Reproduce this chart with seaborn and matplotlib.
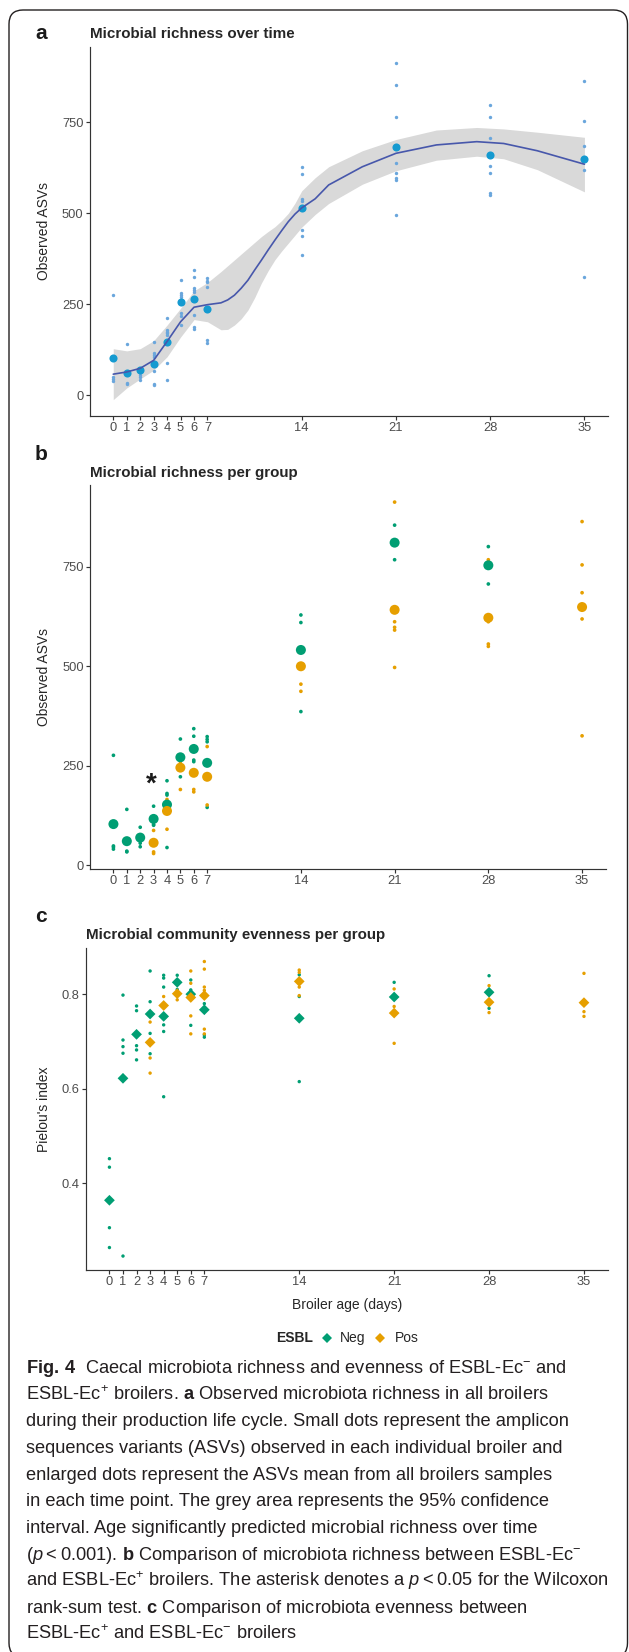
import matplotlib
matplotlib.use("Agg")
import matplotlib.pyplot as plt
import seaborn as sns
import pandas as pd
from matplotlib import font_manager as fm
from matplotlib.patches import FancyBboxPatch
from matplotlib.lines import Line2D
from matplotlib.transforms import IdentityTransform

W, H, DPI = 629, 1652, 100

# ---------------- data ----------------
days = [0, 1, 2, 3, 4, 5, 6, 7, 14, 21, 28, 35]
day_labels = [str(d) for d in days]
asv_ticks = [0, 250, 500, 750]
asv_labels = ["0", "250", "500", "750"]
pielou_ticks = [0.4, 0.6, 0.8]
pielou_labels = ["0.4", "0.6", "0.8"]

# panel a: observed ASVs of each broiler per day, and the daily mean
a_points = [
    [276, 50, 45, 40],
    [140, 35, 32],
    [55, 49, 43],
    [147, 117, 110, 106, 67, 32, 29],
    [211, 179, 175, 170, 165, 89, 41],
    [317, 282, 276, 271, 225, 219, 193],
    [343, 324, 294, 289, 284, 220, 188, 182],
    [322, 315, 310, 297, 152, 145],
    [628, 608, 540, 533, 454, 437, 386],
    [912, 854, 766, 639, 610, 596, 591, 495],
    [799, 766, 707, 631, 610, 555, 551],
    [863, 754, 684, 618, 324],
]
a_means = [103, 60, 69, 87, 146, 255, 264, 236, 515, 683, 660, 649]

# panel a: smoothed fit and its 95% band
curve_days = [0, 1, 2, 3, 4, 5, 6, 7, 8, 8.5, 9, 9.5, 10, 10.5, 11, 11.5, 12, 12.5, 13, 13.5,
              14, 15, 16, 18.5, 21, 24, 27, 29, 31.5, 35]
curve_fit = [58, 64, 74, 96, 148, 202, 242, 249, 254, 262, 275, 294, 316, 344, 371, 399, 426,
             452, 477, 498, 515, 540, 578, 628, 665, 688, 697, 692, 672, 635]
curve_upper = [128, 122, 128, 150, 193, 239, 287, 310, 340, 356, 372, 388, 404, 420, 436, 450,
               463, 480, 500, 528, 562, 598, 628, 672, 703, 729, 736, 732, 723, 709]
curve_lower = [-12, 20, 45, 69, 106, 160, 208, 202, 180, 181, 193, 210, 234, 268, 308, 342,
               372, 396, 418, 440, 462, 497, 527, 580, 617, 646, 657, 650, 620, 559]

# panel b: observed ASVs per ESBL group
b_neg_points = [
    [276, 48, 45, 40],
    [140, 35, 33],
    [95, 55, 46],
    [148, 102, 100],
    [212, 180, 176, 44],
    [317, 276, 222],
    [343, 324, 264, 260],
    [323, 316, 310, 145],
    [629, 610, 386],
    [855, 768],
    [801, 707],
    [],
]
b_neg_means = [103, 60, 69, 116, 152, 271, 292, 257, 541, 811, 754, None]
b_pos_points = [
    [], [], [],
    [87, 33, 29],
    [165, 142, 90],
    [260, 190],
    [190, 184],
    [298, 225, 151],
    [455, 437],
    [913, 612, 598, 591, 497],
    [768, 612, 556, 550],
    [864, 755, 685, 619, 325],
]
b_pos_means = [None, None, None, 56, 136, 245, 232, 222, 500, 642, 622, 649]
star_day, star_value = 2.85, 218

# panel c: Pielou's evenness per ESBL group
c_neg_points = [
    [0.452, 0.434, 0.306, 0.264],
    [0.798, 0.703, 0.689, 0.675, 0.246],
    [0.775, 0.765, 0.691, 0.682, 0.661],
    [0.849, 0.784, 0.717, 0.674],
    [0.840, 0.834, 0.815, 0.735, 0.721, 0.583],
    [0.840, 0.810],
    [0.830, 0.809, 0.734],
    [0.780, 0.714, 0.709],
    [0.841, 0.795, 0.615],
    [0.825, 0.763],
    [0.839, 0.770],
    [],
]
c_neg_means = [0.364, 0.622, 0.715, 0.758, 0.753, 0.825, 0.800, 0.767, 0.749, 0.794, 0.804, None]
c_pos_points = [
    [], [], [],
    [0.741, 0.665, 0.633],
    [0.795],
    [0.788],
    [0.849, 0.823, 0.754, 0.716],
    [0.869, 0.853, 0.815, 0.808, 0.726, 0.716],
    [0.851, 0.846, 0.815, 0.797],
    [0.811, 0.774, 0.696],
    [0.818, 0.761],
    [0.844, 0.763, 0.753],
]
c_pos_means = [None, None, None, 0.698, 0.776, 0.801, 0.793, 0.797, 0.827, 0.760, 0.783, 0.782]

groups = ["Neg", "Pos"]
caption_lines = [
    "$\\mathbf{Fig.\\:4}$  Caecal microbiota richness and evenness of ESBL-Ec$^{-}$ and",
    "ESBL-Ec$^{+}$ broilers. $\\mathbf{a}$ Observed microbiota richness in all broilers",
    "during their production life cycle. Small dots represent the amplicon",
    "sequences variants (ASVs) observed in each individual broiler and",
    "enlarged dots represent the ASVs mean from all broilers samples",
    "in each time point. The grey area represents the 95% confidence",
    "interval. Age significantly predicted microbial richness over time",
    "($\\mathit{p}$\u2009<\u20090.001). $\\mathbf{b}$ Comparison of microbiota richness between ESBL-Ec$^{-}$",
    "and ESBL-Ec$^{+}$ broilers. The asterisk denotes a $\\mathit{p}$\u2009<\u20090.05 for the Wilcoxon",
    "rank-sum test. $\\mathbf{c}$ Comparison of microbiota evenness between",
    "ESBL-Ec$^{+}$ and ESBL-Ec$^{-}$ broilers",
]

# ---------------- style ----------------
GREEN, ORANGE = "#009E73", "#E69F00"
LIGHT_BLUE, DARK_BLUE, LINE_BLUE, BAND = "#6aa6dc", "#159ad0", "#4757ab", "#d9d9d9"
AXIS_COL = "#333333"
TICK_TXT = "#4d4d4d"

sns.set_style("ticks")
avail = {f.name for f in fm.fontManager.ttflist}
base_font = "Liberation Sans" if "Liberation Sans" in avail else "DejaVu Sans"
cap_font = "Liberation Sans Narrow" if "Liberation Sans Narrow" in avail else base_font
plt.rcParams["font.family"] = [base_font, "DejaVu Sans"]
plt.rcParams["mathtext.fontset"] = "custom"
plt.rcParams["mathtext.rm"] = cap_font
plt.rcParams["mathtext.it"] = cap_font + ":italic"
plt.rcParams["mathtext.bf"] = cap_font + ":bold"

fig = plt.figure(figsize=(W / DPI, H / DPI), dpi=DPI)
fig.patch.set_facecolor("white")


def px_axes(L, R, T, B):
    return fig.add_axes([L / W, 1 - B / H, (R - L) / W, (B - T) / H])


def ftext(x, y, s, **kw):
    return fig.text(x / W, 1 - y / H, s, **kw)


def style(ax, yticks, ylabels, ylim):
    ax.set_xlim(-1.75, 36.75)
    ax.set_ylim(*ylim)
    ax.set_xticks(days)
    ax.set_xticklabels(day_labels)
    ax.set_yticks(yticks)
    ax.set_yticklabels(ylabels)
    for s in ["top", "right"]:
        ax.spines[s].set_visible(False)
    for s in ["left", "bottom"]:
        ax.spines[s].set_color(AXIS_COL)
        ax.spines[s].set_linewidth(0.85)
    ax.tick_params(axis="both", length=2.6, width=0.85, color=AXIS_COL,
                   labelcolor=TICK_TXT, labelsize=9.3, pad=1.8)
    ax.set_xlabel("")
    ax.set_ylabel("")
    ax.set_facecolor("white")
    ax.grid(False)


def long_df(points, group=None):
    d = [day for day, vals in zip(days, points) for _ in vals]
    v = [x for vals in points for x in vals]
    df = pd.DataFrame({"day": d, "value": v})
    if group is not None:
        df["ESBL"] = group
    return df


def mean_df(means, group):
    rows = [(d, m) for d, m in zip(days, means) if m is not None]
    df = pd.DataFrame(rows, columns=["day", "value"])
    df["ESBL"] = group
    return df


pal = {"Neg": GREEN, "Pos": ORANGE}

# ---------------- panel a ----------------
axa = px_axes(89.7, 608, 46.7, 416)
axa.fill_between(curve_days, curve_lower, curve_upper, color=BAND, lw=0, zorder=1)
sns.scatterplot(data=long_df(a_points), x="day", y="value", color=LIGHT_BLUE, s=6,
                linewidth=0, ax=axa, zorder=2)
sns.scatterplot(x=days, y=a_means, color=DARK_BLUE, s=34, linewidth=0, ax=axa, zorder=3)
sns.lineplot(x=curve_days, y=curve_fit, color=LINE_BLUE, lw=1.2, ax=axa, zorder=4,
             errorbar=None)
style(axa, asv_ticks, asv_labels, (-57, 958))

# ---------------- panel b ----------------
axb = px_axes(90, 605.5, 485, 869)
dfb = pd.concat([long_df(b_neg_points, "Neg"), long_df(b_pos_points, "Pos")], ignore_index=True)
dfbm = pd.concat([mean_df(b_neg_means, "Neg"), mean_df(b_pos_means, "Pos")], ignore_index=True)
sns.scatterplot(data=dfb, x="day", y="value", hue="ESBL", hue_order=groups, palette=pal,
                s=7, linewidth=0, legend=False, ax=axb, zorder=2)
sns.scatterplot(data=dfbm, x="day", y="value", hue="ESBL", hue_order=groups, palette=pal,
                s=52, linewidth=0, legend=False, ax=axb, zorder=3)
axb.annotate("*", (star_day, star_value), xytext=(0, -4.7), textcoords="offset points",
             ha="center", va="center", fontsize=20, fontweight="bold", color="#1a1a1a")
style(axb, asv_ticks, asv_labels, (-10, 956))

# ---------------- panel c ----------------
axc = px_axes(85.7, 607.7, 948.3, 1270)
dfc = pd.concat([long_df(c_neg_points, "Neg"), long_df(c_pos_points, "Pos")], ignore_index=True)
dfcm = pd.concat([mean_df(c_neg_means, "Neg"), mean_df(c_pos_means, "Pos")], ignore_index=True)
sns.scatterplot(data=dfc, x="day", y="value", hue="ESBL", hue_order=groups, palette=pal,
                s=6, linewidth=0, legend=False, ax=axc, zorder=2)
sns.scatterplot(data=dfcm, x="day", y="value", hue="ESBL", hue_order=groups, palette=pal,
                marker="D", s=30, linewidth=0, legend=False, ax=axc, zorder=3)
style(axc, pielou_ticks, pielou_labels, (0.2165, 0.897))

# ---------------- texts ----------------
for y, s in [(39.3, "a"), (460, "b"), (921.7, "c")]:
    ftext(35, y, s, fontsize=15, fontweight="bold", va="baseline", ha="left", color="#1a1a1a")
ftext(90.2, 38.3, "Microbial richness over time", fontsize=10.9, fontweight="bold", va="baseline")
ftext(90.2, 476.7, "Microbial richness per group", fontsize=10.9, fontweight="bold", va="baseline")
ftext(86.2, 939, "Microbial community evenness per group", fontsize=10.9, fontweight="bold",
      va="baseline")
ftext(44, 231, "Observed ASVs", rotation=90, ha="center", va="center", fontsize=10)
ftext(44, 677, "Observed ASVs", rotation=90, ha="center", va="center", fontsize=10)
ftext(44, 1109, "Pielou's index", rotation=90, ha="center", va="center", fontsize=10)
ftext(346.7, 1305.3, "Broiler age (days)", ha="center", va="center", fontsize=10)

# legend
ftext(276.5, 1338, "ESBL", fontsize=10, fontweight="bold", va="center", ha="left")
for xm, g, xt in [(326.6, "Neg", 340), (380, "Pos", 395)]:
    fig.add_artist(Line2D([xm], [H - 1338], marker="D", markersize=5.6, color=pal[g],
                          markeredgewidth=0, linestyle="", transform=IdentityTransform()))
    ftext(xt, 1338, g, fontsize=10, va="center", ha="left")

# caption
renderer = fig.canvas.get_renderer()
probe = ftext(26, 1600, caption_lines[8], fontsize=14, family=[cap_font, "DejaVu Sans"])
wprobe = probe.get_window_extent(renderer=renderer).width
probe.remove()
cap_size = 14 * 585.0 / wprobe
for i, line in enumerate(caption_lines):
    ftext(26, 1373.3 + 26.6 * i, line, fontsize=cap_size, va="baseline", ha="left",
          color="#231f20", family=[cap_font, "DejaVu Sans"])

# border
fig.add_artist(FancyBboxPatch((9, H - 1657), 618.5, 1647,
                              boxstyle="round,pad=0,rounding_size=14",
                              transform=IdentityTransform(), fill=False,
                              edgecolor="#231f20", linewidth=1.0))

fig.savefig("out.png", dpi=DPI, facecolor="white")
